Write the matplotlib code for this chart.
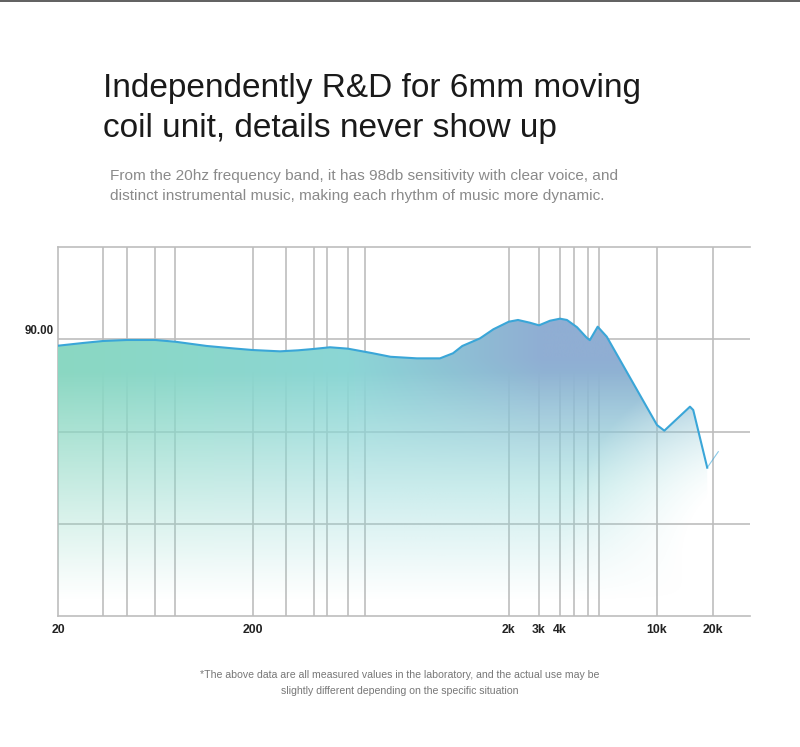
import numpy as np
import matplotlib.pyplot as plt
from matplotlib.colors import to_rgb

plt.rcParams['font.family'] = ['Liberation Sans', 'DejaVu Sans']

# frequency response (Hz, dB)
freq = [20, 27, 34, 45, 63, 80, 116, 160, 200, 255, 300, 343, 400, 470, 589,
        690, 875, 1077, 1211, 1317, 1545, 1742, 2000, 2265, 2660, 3000, 3490,
        4000, 4270, 4700, 5134, 5300, 5710, 6220, 10000, 10950, 15040, 15660,
        18620, 21350]
db = [89.3, 89.6, 89.81, 89.92, 89.92, 89.73, 89.27, 89.0, 88.83, 88.69, 88.8,
      88.94, 89.13, 88.98, 88.48, 88.1, 87.93, 87.93, 88.48, 89.27, 90.1,
      91.08, 91.9, 92.09, 91.79, 91.51, 92.01, 92.23, 92.09, 91.3, 90.2, 89.9,
      91.36, 90.28, 80.7, 80.09, 82.69, 82.33, 76.08, 77.81]

tick_freqs = [20, 200, 2000, 3000, 4000, 10000, 20000]
tick_labels = ['20', '200', '2k', '3k', '4k', '10k', '20k']
grid_freqs = [34, 45, 63, 80, 200, 270, 345, 390, 470, 550,
              2000, 3000, 4000, 4570, 5210, 5780, 10000, 20000]
grid_db = [70, 80, 90]
y_label = '90.00'

title = "Independently R&D for 6mm moving\ncoil unit, details never show up"
subtitle = ("From the 20hz frequency band, it has 98db sensitivity with clear voice, and\n"
            "distinct instrumental music, making each rhythm of music more dynamic.")
note = ("*The above data are all measured values in the laboratory, and the actual use may be\n"
        "slightly different depending on the specific situation")

# the printed axis is not a clean log axis, so stretch it piecewise
anchor_log = np.log10([20, 200, 2000, 3000, 4000, 10000, 20000, 31600])
anchor_pos = np.array([0, 195, 450.7, 481, 502, 599, 655, 692])


def fwd(f):
    return np.interp(np.log10(np.clip(f, 1e-3, None)), anchor_log, anchor_pos)


def inv(p):
    return 10 ** np.interp(p, anchor_pos, anchor_log)


W, H = 800, 747
fig = plt.figure(figsize=(W / 100, H / 100), dpi=100)
L, R, B, T = 58, 750, 616, 247
ax = fig.add_axes([L / W, 1 - B / H, (R - L) / W, (B - T) / H])
ax.set_xscale('function', functions=(fwd, inv))
ax.set_xlim(20, 31600)
ax.set_ylim(60, 100)
ax.set_autoscale_on(False)

# grid sits under the fill, shows through where the fill fades
for f in grid_freqs:
    ax.axvline(f, color='#bdbdbd', lw=1.2, zorder=0.5)
for g in grid_db:
    ax.axhline(g, color='#bdbdbd', lw=1.2, zorder=0.5)

# gradient fill, clipped to the area under the curve
nx, ny = 700, 370
u = np.linspace(0, 1, nx)
v = np.linspace(1, 0, ny)
U, V = np.meshgrid(u, v)
green = np.array(to_rgb('#8ad8c2'))
teal = np.array(to_rgb('#8cd6d6'))
blue = np.array(to_rgb('#90aed3'))
hmix = np.clip(U / 0.45, 0, 1)[..., None]
base = green * (1 - hmix) + teal * hmix
bw = (np.clip((U - 0.42) / 0.28, 0, 1) * np.clip((V - 0.35) / 0.35, 0, 1))[..., None]
col = base * (1 - bw) + blue * bw
alpha = np.clip((V - 0.04) / 0.62, 0, 1) ** 1.1
px = L + U * (R - L)
py = B - V * (B - T)
d = np.hypot(px - 765, py - 555)
alpha *= np.clip((d - 80) / 120, 0, 1)
img = np.dstack([col, alpha])
im = ax.imshow(img, extent=[0, 1, 0, 1], transform=ax.transAxes,
               aspect='auto', interpolation='bilinear', zorder=1)
clip, = ax.fill(freq[:-1] + [freq[-2], freq[0]], db[:-1] + [60, 60],
                facecolor='none', edgecolor='none')
im.set_clip_path(clip)

ax.plot(freq[:-1], db[:-1], color='#3aa6d8', lw=1.5, zorder=3)
ax.plot(freq[-2:], db[-2:], color='#3aa6d8', lw=0.8, alpha=0.6, zorder=3)

ax.spines['right'].set_visible(False)
for side in ['left', 'bottom', 'top']:
    ax.spines[side].set_color('#bdbdbd')
    ax.spines[side].set_linewidth(1.2)
    ax.spines[side].set_zorder(0.5)

ax.set_xticks(tick_freqs, tick_labels)
ax.tick_params(axis='x', length=0, pad=6, labelsize=8.8, labelcolor='#222222')
for lab in ax.get_xticklabels():
    lab.set_fontweight('bold')
ax.set_yticks([])
ax.minorticks_off()
ax.annotate(y_label, xy=(0, 90), xycoords=ax.get_yaxis_transform(),
            xytext=(-3, 1.5), textcoords='offset points', ha='right', va='bottom',
            fontsize=8.3, fontweight='bold', color='#222222')

t1, t2 = title.split('\n')
fig.text(103 / W, 1 - 97 / H, t1, fontsize=24, color='#1a1a1a', va='baseline')
fig.text(103 / W, 1 - 137 / H, t2, fontsize=24, color='#1a1a1a', va='baseline')
sub = subtitle.split('\n')
fig.text(110 / W, 1 - 180 / H, sub[0], fontsize=11.1, color='#8a8a8a', va='baseline')
fig.text(110 / W, 1 - 200 / H, sub[1], fontsize=11.1, color='#8a8a8a', va='baseline')
nt = note.split('\n')
fig.text(0.5, 1 - 675 / H, nt[0], fontsize=7.6, color='#777777', ha='center', va='center')
fig.text(0.5, 1 - 691 / H, nt[1], fontsize=7.6, color='#777777', ha='center', va='center')

fig.add_artist(plt.Line2D([0, 1], [0.9985, 0.9985], color='#444444', lw=1.2))

fig.savefig('out.png', dpi=100, facecolor='white')
